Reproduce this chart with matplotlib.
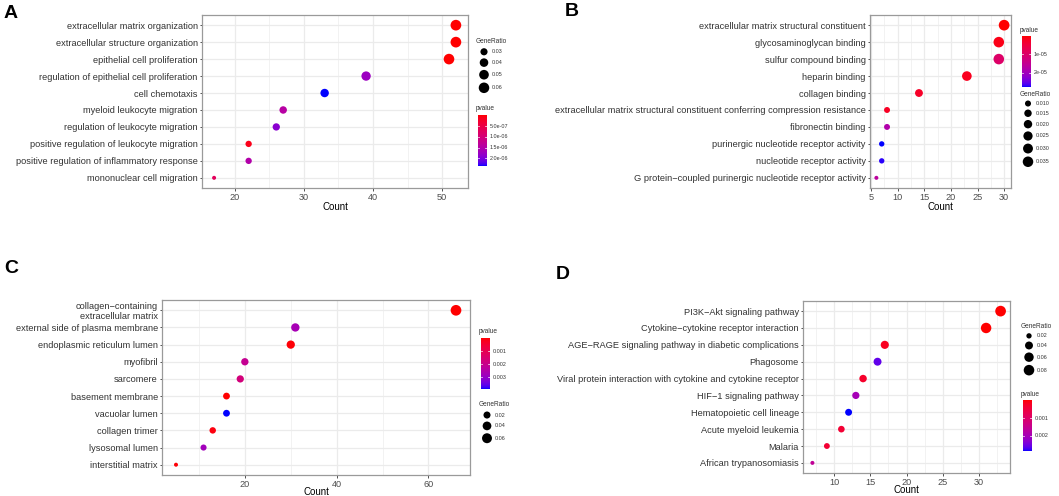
"""
GO / KEGG enrichment dot plots (four panels), redrawn with matplotlib.
Colour = pvalue (red low -> blue high, Lab interpolated), size = GeneRatio.
"""

import matplotlib
matplotlib.use("Agg")
import matplotlib.pyplot as plt
import numpy as np
from matplotlib.colors import ListedColormap

M = "\u2212"  # ggplot draws hyphens as minus signs

# ---------------------------------------------------------------------------
# Data
# ---------------------------------------------------------------------------
A_terms = [
    "extracellular matrix organization",
    "extracellular structure organization",
    "epithelial cell proliferation",
    "regulation of epithelial cell proliferation",
    "cell chemotaxis",
    "myeloid leukocyte migration",
    "regulation of leukocyte migration",
    "positive regulation of leukocyte migration",
    "positive regulation of inflammatory response",
    "mononuclear cell migration",
]
A_count = [52, 52, 51, 39, 33, 27, 26, 22, 22, 17]
A_ratio = [0.062, 0.062, 0.061, 0.047, 0.039, 0.032, 0.031, 0.026, 0.026, 0.021]
A_pvalue = [2e-10, 4e-10, 1.5e-9, 1.75e-6, 2.35e-6, 1.45e-6, 1.9e-6, 1.2e-7, 1.5e-6, 7.0e-7]
A_pticks = [5.0e-7, 1.0e-6, 1.5e-6, 2.0e-6]
A_plabels = ["5.0e-07", "1.0e-06", "1.5e-06", "2.0e-06"]
A_sticks = [0.03, 0.04, 0.05, 0.06]
A_slabels = ["0.03", "0.04", "0.05", "0.06"]
A_xticks = [20, 30, 40, 50]

B_terms = [
    "extracellular matrix structural constituent",
    "glycosaminoglycan binding",
    "sulfur compound binding",
    "heparin binding",
    "collagen binding",
    "extracellular matrix structural constituent conferring compression resistance",
    "fibronectin binding",
    "purinergic nucleotide receptor activity",
    "nucleotide receptor activity",
    f"G protein{M}coupled purinergic nucleotide receptor activity",
]
B_count = [30, 29, 29, 23, 14, 8, 8, 7, 7, 6]
B_ratio = [0.0366, 0.0354, 0.0354, 0.028, 0.017, 0.0098, 0.0098, 0.0085, 0.0085, 0.0073]
B_pvalue = [4e-7, 1.6e-6, 1.0e-5, 2.2e-6, 3.0e-6, 2.6e-6, 1.8e-5, 2.77e-5, 2.72e-5, 1.65e-5]
B_pticks = [1e-5, 2e-5]
B_plabels = ["1e-05", "2e-05"]
B_sticks = [0.010, 0.015, 0.020, 0.025, 0.030, 0.035]
B_slabels = ["0.010", "0.015", "0.020", "0.025", "0.030", "0.035"]
B_xticks = [5, 10, 15, 20, 25, 30]

C_terms = [
    f"collagen{M}containing\nextracellular matrix",
    "external side of plasma membrane",
    "endoplasmic reticulum lumen",
    "myofibril",
    "sarcomere",
    "basement membrane",
    "vacuolar lumen",
    "collagen trimer",
    "lysosomal lumen",
    "interstitial matrix",
]
C_count = [66, 31, 30, 20, 19, 16, 16, 13, 11, 5]
C_ratio = [0.075, 0.035, 0.034, 0.023, 0.022, 0.018, 0.018, 0.015, 0.0125, 0.0057]
C_pvalue = [1e-10, 0.0027, 5e-5, 0.0021, 0.0017, 1e-5, 0.0039, 1e-4, 0.0028, 5e-5]
C_pticks = [0.001, 0.002, 0.003]
C_plabels = ["0.001", "0.002", "0.003"]
C_sticks = [0.02, 0.04, 0.06]
C_slabels = ["0.02", "0.04", "0.06"]
C_xticks = [20, 40, 60]

D_terms = [
    f"PI3K{M}Akt signaling pathway",
    f"Cytokine{M}cytokine receptor interaction",
    f"AGE{M}RAGE signaling pathway in diabetic complications",
    "Phagosome",
    "Viral protein interaction with cytokine and cytokine receptor",
    f"HIF{M}1 signaling pathway",
    "Hematopoietic cell lineage",
    "Acute myeloid leukemia",
    "Malaria",
    "African trypanosomiasis",
]
D_count = [33, 31, 17, 16, 14, 13, 12, 11, 9, 7]
D_ratio = [0.0825, 0.0775, 0.0425, 0.040, 0.035, 0.0325, 0.030, 0.0275, 0.0225, 0.0175]
D_pvalue = [1e-5, 2e-6, 2e-4, 0.0026, 3e-4, 0.0020, 0.00285, 4e-4, 4e-4, 0.0016]
D_pticks = [0.001, 0.002]
D_plabels = ["0.001", "0.002"]
D_sticks = [0.02, 0.04, 0.06, 0.08]
D_slabels = ["0.02", "0.04", "0.06", "0.08"]
D_xticks = [10, 15, 20, 25, 30]

# ---------------------------------------------------------------------------
# Layout (pixels in a 1059 x 496 canvas)
# ---------------------------------------------------------------------------
W, H, DPI = 1059, 496, 100
D_MIN, D_MAX = 4.0, 10.7          # dot diameter range in px

PANELS = {
    "A": dict(rect=(202, 15, 468, 188), letter=(4, 5), legend_x=476,
              order=("size", "color"), legend_y=(41.7, 109), xlabpad=0.5),
    "B": dict(rect=(870, 15, 1010.5, 188), letter=(565, 3), legend_x=1020,
              order=("color", "size"), legend_y=(30, 94), xlabpad=0.5),
    "C": dict(rect=(162, 300, 470, 475), letter=(4, 260), legend_x=479,
              order=("color", "size"), legend_y=(331.7, 405), xlabpad=-0.8),
    "D": dict(rect=(803, 301, 1010, 473), letter=(556, 266), legend_x=1021,
              order=("size", "color"), legend_y=(326.7, 394), xlabpad=-0.8),
}

GRID = "#EBEBEB"
BORDER = "#9A9A9A"
TICKTXT = "#4D4D4D"

plt.rcParams.update({
    "font.family": ["Liberation Sans", "DejaVu Sans"],
    "axes.linewidth": 0.9,
})


# ---------------------------------------------------------------------------
# Lab-space red -> blue ramp (what ggplot's scale_color_continuous does)
# ---------------------------------------------------------------------------
_MAT = np.array([[0.4124, 0.3576, 0.1805],
                 [0.2126, 0.7152, 0.0722],
                 [0.0193, 0.1192, 0.9505]])
_WHITE = np.array([0.95047, 1.0, 1.08883])


def to_lab(rgb):
    rgb = np.asarray(rgb, float)
    lin = np.where(rgb > 0.04045, ((rgb + 0.055) / 1.055) ** 2.4, rgb / 12.92)
    xyz = _MAT @ lin / _WHITE
    f = np.where(xyz > 216 / 24389, np.cbrt(xyz), (24389 / 27 * xyz + 16) / 116)
    return np.array([116 * f[1] - 16, 500 * (f[0] - f[1]), 200 * (f[1] - f[2])])


def from_lab(lab):
    L, a, b = lab
    fy = (L + 16) / 116
    f = np.array([fy + a / 500, fy, fy - b / 200])
    xyz = np.where(f ** 3 > 216 / 24389, f ** 3, (116 * f - 16) / (24389 / 27)) * _WHITE
    lin = np.linalg.solve(_MAT, xyz)
    rgb = np.where(lin > 0.0031308, 1.055 * np.abs(lin) ** (1 / 2.4) - 0.055, 12.92 * lin)
    return np.clip(rgb, 0, 1)


lab_red, lab_blue = to_lab([1, 0, 0]), to_lab([0, 0, 1])
CMAP = ListedColormap([from_lab(lab_red + t * (lab_blue - lab_red))
                       for t in np.linspace(0, 1, 256)])


def diam(g, lo, hi):
    return D_MIN + np.sqrt((np.asarray(g) - lo) / (hi - lo)) * (D_MAX - D_MIN)


def px2frac(rect):
    l, t, r, b = rect
    return [l / W, 1 - b / H, (r - l) / W, (b - t) / H]


# ---------------------------------------------------------------------------
# Drawing
# ---------------------------------------------------------------------------
fig = plt.figure(figsize=(W / DPI, H / DPI), dpi=DPI)
ov = fig.add_axes([0, 0, 1, 1])
ov.axis("off")


def draw_panel(key, terms, count, ratio, pvalue, xticks,
               pticks, plabels, sticks, slabels):
    cfg = PANELS[key]
    ax = fig.add_axes(px2frac(cfg["rect"]))
    n = len(terms)
    y = np.arange(n)
    gmin, gmax = min(ratio), max(ratio)
    pmin, pmax = min(pvalue), max(pvalue)

    sizes = (diam(ratio, gmin, gmax) * 72 / DPI) ** 2
    cols = CMAP((np.asarray(pvalue) - pmin) / (pmax - pmin))
    ax.scatter(count, y, s=sizes, c=cols, edgecolors="none", zorder=3)

    span = max(count) - min(count)
    ax.set_xlim(min(count) - 0.05 * span, max(count) + 0.05 * span)
    ax.set_ylim(n - 0.4, -0.6)

    # theme_bw grid: major + minor verticals, one horizontal per term
    step = xticks[1] - xticks[0]
    minors = np.arange(xticks[0] - step / 2, xticks[-1] + step, step)
    for xm in minors:
        ax.axvline(xm, color=GRID, lw=0.45, zorder=0)
    for xv in xticks:
        ax.axvline(xv, color=GRID, lw=0.9, zorder=0)
    for yv in y:
        ax.axhline(yv, color=GRID, lw=0.9, zorder=0)

    ax.set_xticks(xticks)
    ax.set_xticklabels([str(v) for v in xticks])
    ax.set_yticks(y)
    ax.set_yticklabels(terms, linespacing=1.05)
    ax.tick_params(axis="x", labelsize=6.6, colors="#333333", labelcolor=TICKTXT,
                   length=1.8, width=0.6, pad=1.5)
    ax.tick_params(axis="y", labelsize=6.7, colors="#333333", labelcolor="#333333",
                   length=1.8, width=0.6, pad=1.2)
    for sp in ax.spines.values():
        sp.set_color(BORDER)
    ax.set_xlabel("Count", fontsize=7, labelpad=cfg["xlabpad"])

    lx = cfg["legend_x"]
    fig.text(cfg["letter"][0] / W, 1 - cfg["letter"][1] / H, key,
             fontsize=14, fontweight="bold", va="top", ha="left")

    for part, ty in zip(cfg["order"], cfg["legend_y"]):
        if part == "size":
            ov.text(lx, ty, "GeneRatio", fontsize=4.7, color="#333333",
                    va="center", ha="left")
            d = diam(sticks, gmin, gmax)
            cy = ty + 5
            for dk, lab in zip(d, slabels):
                cy += (dk + 3) / 2
                ov.scatter([lx + 8], [cy], s=(dk * 72 / DPI) ** 2, c="black",
                           edgecolors="none")
                ov.text(lx + 16, cy, lab, fontsize=3.9, color="#333333",
                        va="center", ha="left")
                cy += (dk + 3) / 2
        else:
            ov.text(lx, ty, "pvalue", fontsize=4.7, color="#333333",
                    va="center", ha="left")
            x0, x1 = lx + 1.5, lx + 10.5
            top, bot = ty + 6.5, ty + 57
            grad = np.linspace(0, 1, 256).reshape(-1, 1)
            ov.imshow(grad, cmap=CMAP, extent=[x0, x1, bot, top],
                      aspect="auto", origin="upper", interpolation="bilinear")
            for v, lab in zip(pticks, plabels):
                yy = top + (v - pmin) / (pmax - pmin) * (bot - top)
                ov.plot([x0, x0 + 1.8], [yy, yy], color="white", lw=0.5)
                ov.plot([x1 - 1.8, x1], [yy, yy], color="white", lw=0.5)
                ov.text(x1 + 3, yy, lab, fontsize=3.9, color="#333333",
                        va="center", ha="left")
    return ax


draw_panel("A", A_terms, A_count, A_ratio, A_pvalue, A_xticks,
           A_pticks, A_plabels, A_sticks, A_slabels)
draw_panel("B", B_terms, B_count, B_ratio, B_pvalue, B_xticks,
           B_pticks, B_plabels, B_sticks, B_slabels)
draw_panel("C", C_terms, C_count, C_ratio, C_pvalue, C_xticks,
           C_pticks, C_plabels, C_sticks, C_slabels)
draw_panel("D", D_terms, D_count, D_ratio, D_pvalue, D_xticks,
           D_pticks, D_plabels, D_sticks, D_slabels)

ov.set_xlim(0, W)
ov.set_ylim(H, 0)

fig.savefig("out.png", dpi=DPI)
